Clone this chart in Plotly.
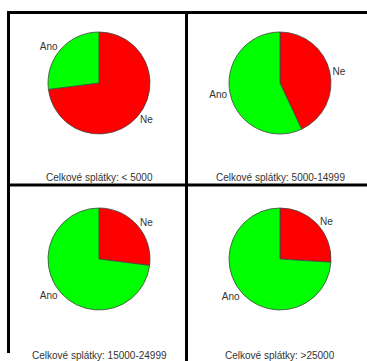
import plotly.graph_objects as go

W, H = 367, 361

labels = ["Ne", "Ano"]
titles = ["Celkové splátky: < 5000", "Celkové splátky: 5000-14999",
          "Celkové splátky: 15000-24999", "Celkové splátky: >25000"]
ne_vals = [73, 43, 27, 26]
ano_vals = [27, 57, 73, 74]
colors = ["#ff0000", "#00ff00"]

# pie centres (px) and radius
centers = [(99, 83), (280, 83), (99, 259), (280, 259)]
R = 51
title_pos = [(99, 178), (280, 178), (99, 355), (280, 355)]

fig = go.Figure()
for i in range(4):
    cx, cy = centers[i]
    fig.add_trace(go.Pie(
        labels=labels,
        values=[ne_vals[i], ano_vals[i]],
        sort=False,
        direction="clockwise",
        rotation=0,
        marker=dict(colors=colors, line=dict(color="#444444", width=0.8)),
        textinfo="label",
        textposition="outside",
        textfont=dict(family="Liberation Sans, Arial", size=10, color="#333333"),
        hoverinfo="label+value",
        showlegend=False,
        domain=dict(x=[(cx - R) / W, (cx + R) / W],
                    y=[1 - (cy + R) / H, 1 - (cy - R) / H]),
    ))

for i, t in enumerate(titles):
    tx, ty = title_pos[i]
    fig.add_annotation(text=t, x=tx / W, y=1 - ty / H, xref="paper", yref="paper",
                       showarrow=False, xanchor="center", yanchor="middle",
                       font=dict(family="Liberation Sans, Arial", size=10, color="#333333"))

def hline(y, x0, x1):
    fig.add_shape(type="line", xref="paper", yref="paper",
                  x0=x0 / W, x1=x1 / W, y0=1 - y / H, y1=1 - y / H,
                  line=dict(color="black", width=3))

def vline(x, y0, y1):
    fig.add_shape(type="line", xref="paper", yref="paper",
                  x0=x / W, x1=x / W, y0=1 - y0 / H, y1=1 - y1 / H,
                  line=dict(color="black", width=3))

hline(12.5, 7, 367)
hline(185, 7, 367)
vline(8.5, 11, 353)
vline(186.5, 11, 361)

fig.update_layout(width=W, height=H, margin=dict(l=0, r=0, t=0, b=0),
                  paper_bgcolor="white", plot_bgcolor="white")
fig.write_html("out.html")
